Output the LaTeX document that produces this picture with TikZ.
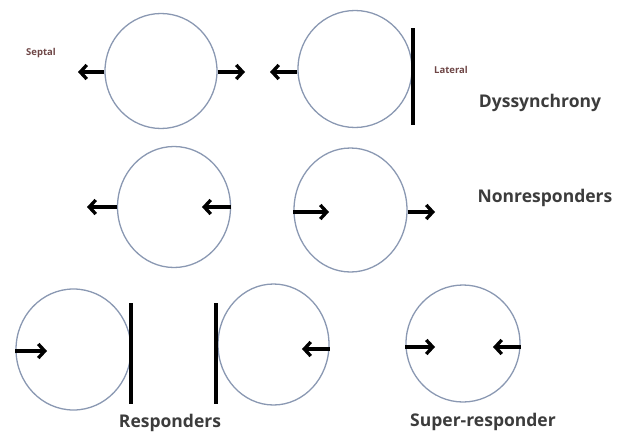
\documentclass[tikz,border=0pt]{standalone}
\usepackage{fontspec}
\setmainfont{Open Sans}
\usetikzlibrary{arrows.meta,shapes.geometric}
\definecolor{rim}{HTML}{8A98B2}
\definecolor{labelgray}{HTML}{3C3C3C}
\definecolor{sidebrown}{HTML}{6E4646}
\tikzset{
  ventricle/.style={ellipse,draw=rim,line width=1.3pt,inner sep=0pt},
  motion/.style={line width=3.3pt,-{Straight Barb[length=6.5pt,width=14pt]}},
  wall/.style={line width=3.3pt,black},
  caption/.style={font=\bfseries\fontsize{17.5}{21}\selectfont,text=labelgray,inner sep=0pt},
  side/.style={font=\bfseries\fontsize{9.5}{11}\selectfont,text=sidebrown,inner sep=0pt}
}
\begin{document}
\begin{tikzpicture}[x=1pt,y=-1pt]
\useasboundingbox (0,0) rectangle (629,434);

% --- Dyssynchrony row ---
\node[ventricle,minimum width=112pt,minimum height=115pt] (c1) at (161,71) {};
\node[ventricle,minimum width=114pt,minimum height=117pt] (c2) at (355,69) {};
\coordinate (t1a) at (78,72);
\coordinate (t1b) at (245,72);
\coordinate (t2a) at (270,72);
\draw[motion] (c1.west |- t1a) -- (t1a);
\draw[motion] (c1.east |- t1b) -- (t1b);
\draw[motion] (c2.west |- t2a) -- (t2a);
\coordinate (w2top) at (413,28);
\coordinate (w2bot) at (413,125);
\draw[wall] (w2top) -- (w2bot);
\node[side] (septal) at (41,53) {Septal};
\node[side] (lateral) at (451,70) {Lateral};
\node[caption] (dys) at (540,103) {Dyssynchrony};

% --- Nonresponders row ---
\node[ventricle,minimum width=113pt,minimum height=121pt] (c3) at (174,207) {};
\node[ventricle,minimum width=113pt,minimum height=124pt] (c4) at (350.5,210) {};
\coordinate (t3a) at (87,207);
\coordinate (t3b) at (202,207);
\coordinate (t4a) at (329,212);
\coordinate (t4b) at (435,212);
\draw[motion] (c3.west |- t3a) -- (t3a);
\draw[motion] (c3.east |- t3b) -- (t3b);
\draw[motion] (c4.west |- t4a) -- (t4a);
\draw[motion] (c4.east |- t4b) -- (t4b);
\node[caption] (non) at (545,198) {Nonresponders};

% --- Responders row ---
\node[ventricle,minimum width=115pt,minimum height=121pt] (c5) at (73.5,349.5) {};
\node[ventricle,minimum width=111pt,minimum height=121pt] (c6) at (273.5,344.5) {};
\coordinate (t5a) at (47,351);
\coordinate (t6b) at (302,349);
\draw[motion] (c5.west |- t5a) -- (t5a);
\draw[motion] (c6.east |- t6b) -- (t6b);
\coordinate (w5top) at (131,303);
\coordinate (w5bot) at (131,404);
\coordinate (w6top) at (216,303);
\coordinate (w6bot) at (216,404);
\draw[wall] (w5top) -- (w5bot);
\draw[wall] (w6top) -- (w6bot);
\node[caption] (resp) at (170,423) {Responders};

% --- Super-responder ---
\node[ventricle,minimum width=114pt,minimum height=117pt] (c7) at (463,343.5) {};
\coordinate (t7a) at (435,347);
\coordinate (t7b) at (493,347);
\draw[motion] (c7.west |- t7a) -- (t7a);
\draw[motion] (c7.east |- t7b) -- (t7b);
\node[caption] (super) at (483,422) {Super-responder};
\end{tikzpicture}
\end{document}
